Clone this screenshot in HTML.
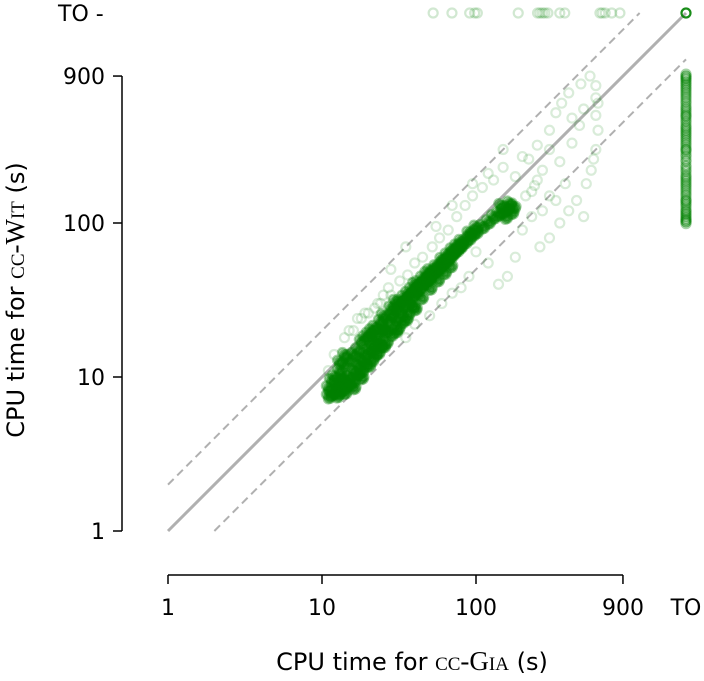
<!DOCTYPE html>
<html><head><meta charset="utf-8"><style>
body{margin:0;background:#fff;}
svg text{font-family:"DejaVu Sans","Liberation Sans",sans-serif;font-size:22px;fill:#000;}
.t{font-size:24px;}
.sc{font-family:"Liberation Serif",serif;font-variant:small-caps;font-size:27px;}
</style></head><body>
<svg id="chart" width="704" height="681" viewBox="0 0 704 681" xmlns="http://www.w3.org/2000/svg" style="position:absolute;left:0;top:0">
<g id="lines"></g>
<g id="pts"></g>
<g id="axes"></g>
</svg>
<script>
const xTicks=[1,10,100,900];
const yTicks=[1,10,100,900];
const tickLabels=["1","10","100","900"];
const corePts=[[11,7.5],[11,8.5],[11.5,9.5],[12,8],[12,10],[12.5,8.8],[13,9],[13,11],[13.5,10],[14,9.5],[14,12],[15,10],[15,13],[16,11],[16,14],[17,12],[17,15],[18,13],[18,17],[19,14],[19,18],[20,15],[20,19],[21,16],[21,20],[22,17],[22,21],[23,18],[24,20],[24,23],[25,21],[25,25],[26,20],[27,23],[28,25],[28,28],[30,24],[30,28],[30,31],[32,27],[32,31],[34,29],[34,33],[36,31],[36,35],[38,33],[38,37],[40,35],[40,40],[42,37],[42,41],[44,39],[45,44],[46,41],[48,43],[48,47],[50,44],[50,49],[52,47],[54,49],[55,52],[56,50],[58,52],[60,54],[60,58],[62,56],[65,58],[65,62],[68,61],[70,63],[70,67],[72,65],[75,67],[75,71],[78,70],[80,72],[80,76],[85,76],[90,80],[90,86],[95,85],[100,88],[100,94],[110,95],[120,102],[130,110],[140,115],[150,120],[160,125],[170,118],[165,135],[155,110],[175,128],[145,130],[13,8],[14,8.5],[15,9],[16,9.5],[17,10.5],[18,11],[19,12],[21,13],[23,14.5],[24,16],[26,17],[28,19],[31,21],[33,23],[36,26],[39,29],[44,33],[50,38],[56,43],[62,48],[68,53],[11.5,7.8],[12.5,7.6],[14,8],[16,8.6],[18,10],[20,12],[22,14],[25,16],[30,20],[35,24],[40,28],[14,14],[13,12.5]];
const outPts=[[11,11],[12,14],[14,18],[15,20],[17,24],[19,26],[23,30],[25,34],[27,38],[32,42],[36,46],[40,55],[45,60],[52,70],[58,80],[66,90],[75,110],[85,130],[95,150],[110,170],[130,190],[150,230],[180,200],[200,270],[220,260],[250,320],[300,400],[330,520],[360,600],[400,700],[480,800],[550,900],[600,780],[600,500],[620,400],[600,300],[560,220],[520,180],[450,140],[400,120],[350,100],[300,80],[260,70],[230,110],[200,90],[180,60],[160,45],[140,40],[120,55],[100,65],[90,45],[80,38],[70,35],[60,30],[50,25],[40,22],[35,18],[500,110],[580,260],[300,150],[250,190],[350,250],[420,330],[470,430],[380,180],[330,140],[270,120],[150,300],[120,210],[95,180],[70,130],[55,95],[35,70],[28,50],[210,150],[230,160],[240,175],[620,600],[600,650],[500,550],[420,480],[300,300],[270,220],[16,20],[18,24],[20,26],[24,30],[28,34],[22,28]];
const toColY=[99,102,105,110,115,120,128,135,140,150,160,170,180,190,200,215,230,250,270,290,300,320,340,360,380,400,420,450,480,500,530,560,600,640,680,720,760,800,840,870,900];
const toRowX=[52.7,69.8,91,98,102,188,251,260,270,280,293,350,377,638,660,690,761,860];
const dec=154;
function sx(v){return 168+dec*Math.log10(v);}
function sy(v){return 531-dec*Math.log10(v);}
const toX=686,toY=13;
const NS="http://www.w3.org/2000/svg";
function mk(tag,attrs,parent){const e=document.createElementNS(NS,tag);for(const k in attrs)e.setAttribute(k,attrs[k]);parent.appendChild(e);return e;}
const L=document.getElementById('lines'),P=document.getElementById('pts'),A=document.getElementById('axes');
let l=mk('line',{x1:sx(1),y1:sy(1),x2:toX,y2:toY,stroke:'#b0b0b0','stroke-width':3},L);


l=mk('line',{x1:sx(1),y1:sy(2),x2:sx(1)+(sy(2)-toY),y2:toY,stroke:'#b0b0b0','stroke-width':2,'stroke-dasharray':'8,5'},L);


l=mk('line',{x1:sx(2),y1:sy(1),x2:toX,y2:sy(1)-(toX-sx(2)),stroke:'#b0b0b0','stroke-width':2,'stroke-dasharray':'8,5'},L);


function dot(x,y,op,fill){const c=mk('circle',{cx:x,cy:y,r:4.5,fill:fill?'rgba(0,128,0,'+fill+')':'none',stroke:'rgba(0,128,0,'+op+')','stroke-width':2.2},P);

}
const jit=[[1,1],[1.03,0.97],[0.97,1.03],[1.04,1],[1,0.96]];
corePts.forEach(p=>jit.forEach(j=>dot(sx(p[0]*j[0]),sy(p[1]*j[1]),0.35,0.3)));
outPts.forEach(p=>dot(sx(p[0]),sy(p[1]),0.15,0));
toColY.forEach(v=>{dot(toX,sy(v),0.35,0);dot(toX,sy(v*1.03),0.35,0);});
toRowX.forEach(v=>dot(sx(v),toY,0.18,0));
dot(toX,toY,0.9,0);
let a=mk('line',{x1:122,y1:sy(900),x2:122,y2:sy(1),stroke:'#000','stroke-width':1.5},A);


a=mk('line',{x1:sx(1),y1:575,x2:sx(900),y2:575,stroke:'#000','stroke-width':1.5},A);


yTicks.forEach((v,i)=>{const t=mk('line',{x1:113,y1:sy(v),x2:122,y2:sy(v),stroke:'#000','stroke-width':1.5},A);


const tx=mk('text',{x:105,y:sy(v)+8,'text-anchor':'end'},A);tx.textContent=tickLabels[i];

});
xTicks.forEach((v,i)=>{const t=mk('line',{x1:sx(v),y1:575,x2:sx(v),y2:584,stroke:'#000','stroke-width':1.5},A);


const tx=mk('text',{x:sx(v),y:615,'text-anchor':'middle'},A);tx.textContent=tickLabels[i];

});
</script>
<svg style="position:absolute;left:0;top:0" width="704" height="681">
<text x="58" y="21">TO -</text>
<text x="686" y="615" text-anchor="middle">TO</text>
<text class="t" x="412" y="670" text-anchor="middle">CPU time for <tspan class="sc">cc-Gia</tspan> (s)</text>
<text class="t" transform="translate(24,300) rotate(-90)" text-anchor="middle">CPU time for <tspan class="sc">cc-Wit</tspan> (s)</text>
</svg>
</body></html>
